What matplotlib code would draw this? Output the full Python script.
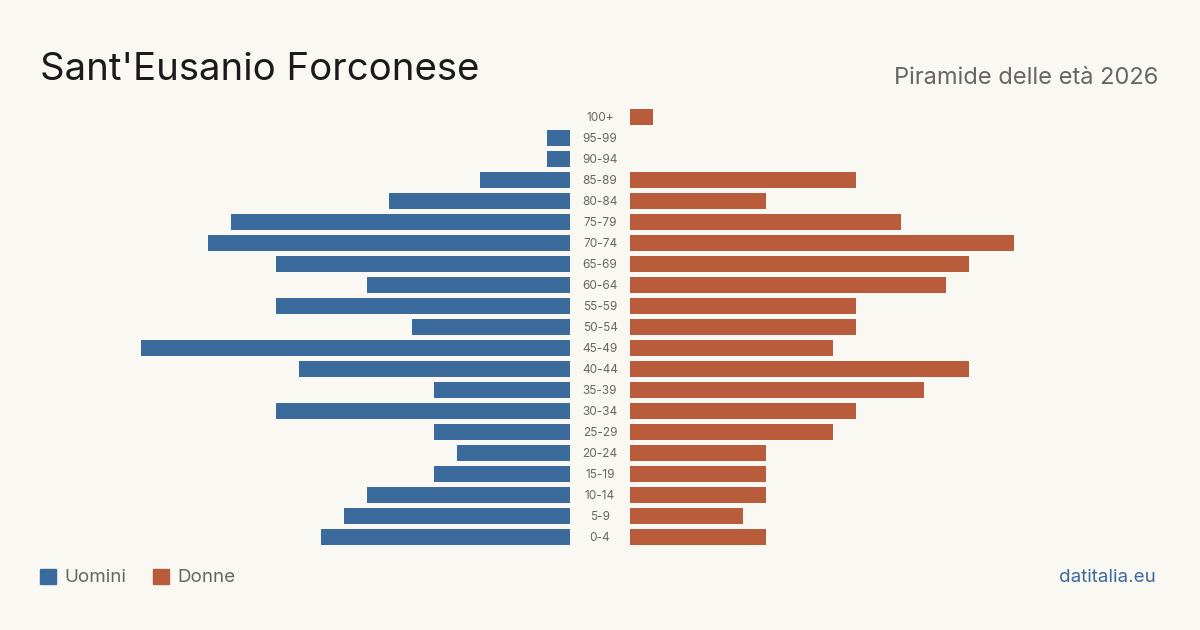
import matplotlib
matplotlib.use("Agg")
import matplotlib.pyplot as plt
from matplotlib.patches import Rectangle

age_groups = ["100+", "95-99", "90-94", "85-89", "80-84", "75-79", "70-74", "65-69",
              "60-64", "55-59", "50-54", "45-49", "40-44", "35-39", "30-34", "25-29",
              "20-24", "15-19", "10-14", "5-9", "0-4"]
men = [0, 1, 1, 4, 8, 15, 16, 13, 9, 13, 7, 19, 12, 6, 13, 6, 5, 6, 9, 10, 11]
women = [1, 0, 0, 10, 6, 12, 17, 15, 14, 10, 10, 9, 15, 13, 10, 9, 6, 6, 6, 5, 6]

title = "Sant'Eusanio Forconese"
subtitle = "Piramide delle età 2026"
legend_labels = ["Uomini", "Donne"]
source = "datitalia.eu"

BG = "#f9f8f3"
BLUE = "#3b6a9c"
ORANGE = "#b95c3b"
FONT = ["Inter", "DejaVu Sans"]

W, H = 1200, 630
fig = plt.figure(figsize=(W / 100, H / 100), dpi=100, facecolor=BG)

def fx(px):
    return px / W

def fy(py):
    return 1 - py / H

scale = 22.6  # px per unit
top, bottom = 106.5, 547.5
n = len(age_groups)
ypos = list(range(n))

axL = fig.add_axes([fx(40), fy(bottom), fx(570 - 40), (bottom - top) / H])
axR = fig.add_axes([fx(630), fy(bottom), fx(1160 - 630), (bottom - top) / H])
for ax in (axL, axR):
    ax.set_facecolor("none")
    ax.set_ylim(n - 0.5, -0.5)
    ax.axis("off")
axL.set_xlim(530 / scale, 0)
axR.set_xlim(0, 530 / scale)

axL.barh(ypos, men, height=0.8, color=BLUE)
axR.barh(ypos, women, height=0.8, color=ORANGE)

axLab = fig.add_axes([fx(570), fy(bottom), fx(60), (bottom - top) / H])
axLab.set_facecolor("none")
axLab.axis("off")
axLab.set_ylim(n - 0.5, -0.5)
axLab.set_xlim(0, 1)
for i, lab in enumerate(age_groups):
    axLab.text(0.5, i + 0.05, lab, ha="center", va="center", fontsize=8.5,
               color="#666666", family=FONT)

fig.text(fx(40), fy(80), title, fontsize=27.6, color="#1a1a1a", family=FONT,
         ha="left", va="baseline")
fig.text(fx(1158), fy(84), subtitle, fontsize=17, color="#666666", family=FONT,
         ha="right", va="baseline")

# legend
for x0, lab, col in [(40, legend_labels[0], BLUE), (153, legend_labels[1], ORANGE)]:
    fig.patches.append(Rectangle((fx(x0), fy(584)), fx(16), 15 / H, color=col,
                                 transform=fig.transFigure, figure=fig))
    fig.text(fx(x0 + 24), fy(582), lab, fontsize=13.5, color="#666666",
             family=FONT, ha="left", va="baseline")

fig.text(fx(1156), fy(582), source, fontsize=13.5, color=BLUE, family=FONT,
         ha="right", va="baseline")

fig.savefig("out.png", dpi=100, facecolor=BG)
